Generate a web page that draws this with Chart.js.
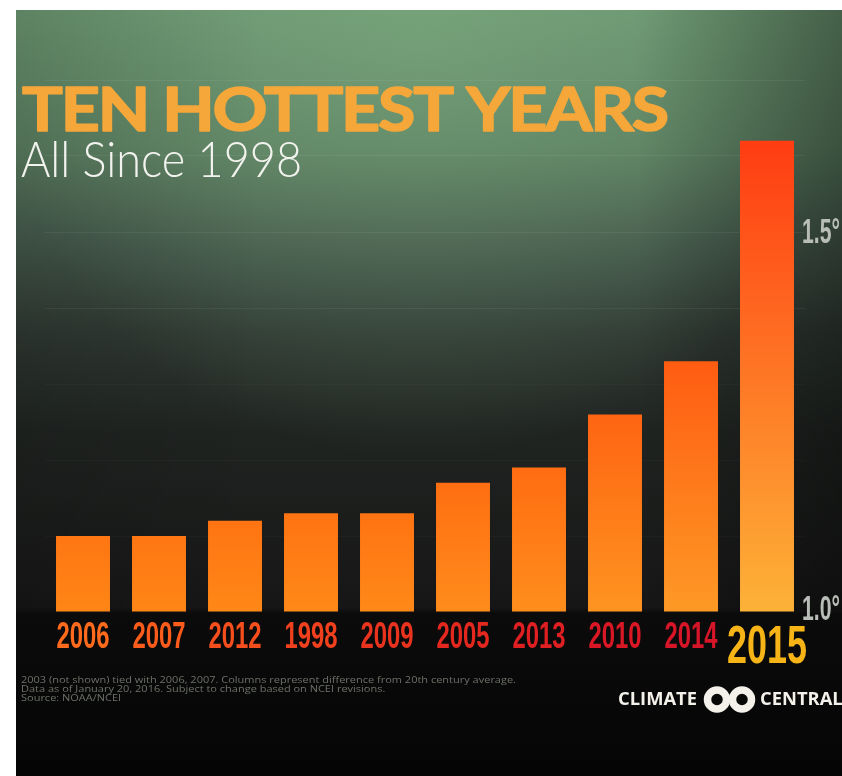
<!DOCTYPE html>
<html>
<head>
<meta charset="utf-8">
<script src="https://cdn.jsdelivr.net/npm/chart.js@4.4.1/dist/chart.umd.min.js"></script>
<style>
  html, body { margin: 0; padding: 0; background: #fff; }
  canvas { display: block; }
</style>
</head>
<body>
<canvas id="hotChart" width="842" height="776"></canvas>
<script>
// Ten hottest years, degrees F above 20th century average (NOAA/NCEI)
const years = ["2006", "2007", "2012", "1998", "2009", "2005", "2013", "2010", "2014", "2015"];
const anomalies = [1.10, 1.10, 1.12, 1.13, 1.13, 1.17, 1.19, 1.26, 1.33, 1.62];
const labeledTicks = [1.0, 1.5];

const yearColors = ["#ff6a1c", "#fb5c1b", "#f64e1c", "#f0401d", "#ea331e", "#e4281f", "#df1f22", "#da1825", "#d61528", "#f6b416"];

const titleText = "TEN HOTTEST YEARS";
const subtitleText = "All Since 1998";
const footnoteLines = [
  "2003 (not shown) tied with 2006, 2007. Columns represent difference from 20th century average.",
  "Data as of January 20, 2016. Subject to change based on NCEI revisions.",
  "Source: NOAA/NCEI",
];

const NUM_FONT = "'Liberation Sans', Arial, sans-serif";

function mix(a, b, t) {
  const pa = a.match(/\w\w/g).map((h) => parseInt(h, 16));
  const pb = b.match(/\w\w/g).map((h) => parseInt(h, 16));
  const c = pa.map((v, i) => Math.round(v + (pb[i] - v) * t));
  return `rgb(${c[0]}, ${c[1]}, ${c[2]})`;
}

// each column fades from light orange at its foot to a hotter tone at its top
function barFill(context) {
  const chart = context.chart;
  const area = chart.chartArea;
  if (!area) return "#ff7a14";
  const value = anomalies[context.dataIndex];
  const top = chart.scales.y.getPixelForValue(value);
  const t = (value - 1.1) / (1.62 - 1.1);
  const g = chart.ctx.createLinearGradient(0, area.bottom, 0, top);
  g.addColorStop(0, mix("ff8616", "fdb238", t));
  g.addColorStop(1, mix("ff7612", "ff3c12", t));
  return g;
}

// draw text squeezed/stretched horizontally so it spans `width` px
function fitText(ctx, text, x, y, width, align, stroke) {
  const w = ctx.measureText(text).width;
  ctx.save();
  ctx.translate(x, y);
  ctx.scale(width / w, 1);
  ctx.textAlign = align;
  ctx.fillText(text, 0, 0);
  if (stroke) ctx.strokeText(text, 0, 0);
  ctx.restore();
}

const backdrop = {
  id: "backdrop",
  beforeDraw(chart) {
    const { ctx, width, height } = chart;
    ctx.save();
    ctx.fillStyle = "#fff";
    ctx.fillRect(0, 0, width, height);

    const x0 = 16, y0 = 10;
    const v = ctx.createLinearGradient(0, y0, 0, height);
    v.addColorStop(0, "#6a9470");
    v.addColorStop(0.18, "#5a7d60");
    v.addColorStop(0.3, "#45594b");
    v.addColorStop(0.42, "#2f3933");
    v.addColorStop(0.55, "#202421");
    v.addColorStop(0.78, "#161616");
    v.addColorStop(0.788, "#0b0b0b");
    v.addColorStop(1, "#050505");
    ctx.fillStyle = v;
    ctx.fillRect(x0, y0, width - x0, height - y0);

    const glow = ctx.createRadialGradient(420, 30, 0, 420, 30, 430);
    glow.addColorStop(0, "rgba(140, 190, 140, 0.35)");
    glow.addColorStop(1, "rgba(140, 190, 140, 0)");
    ctx.fillStyle = glow;
    ctx.fillRect(x0, y0, width - x0, 600);

    const side = ctx.createLinearGradient(x0, 0, width, 0);
    side.addColorStop(0, "rgba(0, 0, 0, 0.12)");
    side.addColorStop(0.3, "rgba(0, 0, 0, 0)");
    side.addColorStop(0.75, "rgba(0, 0, 0, 0)");
    side.addColorStop(1, "rgba(0, 0, 0, 0.35)");
    ctx.fillStyle = side;
    ctx.fillRect(x0, y0, width - x0, 600);
    ctx.restore();
  },
  afterDraw(chart) {
    const { ctx } = chart;
    const xScale = chart.scales.x;
    const yScale = chart.scales.y;
    ctx.save();
    ctx.textBaseline = "alphabetic";

    // year labels under the columns
    years.forEach((yr, i) => {
      const cx = xScale.getPixelForTick(i);
      const last = i === years.length - 1;
      ctx.fillStyle = yearColors[i];
      ctx.font = `bold ${last ? 53 : 36}px ${NUM_FONT}`;
      fitText(ctx, yr, cx, last ? 663 : 648, last ? 80 : 53, "center");
    });

    // right-hand degree labels
    ctx.fillStyle = "#b9bdb8";
    ctx.font = `bold 35px ${NUM_FONT}`;
    labeledTicks.forEach((t) => {
      const y = yScale.getPixelForValue(t);
      fitText(ctx, t.toFixed(1) + "°", 802, y + (t === 1.0 ? 8 : 11), 38, "left");
    });

    ctx.fillStyle = "#f5a73a";
    ctx.strokeStyle = "#f5a73a";
    ctx.lineWidth = 1.6;
    ctx.lineJoin = "round";
    ctx.letterSpacing = "-2px";
    ctx.font = "bold 62px Lato, sans-serif";
    fitText(ctx, titleText, 22, 131, 645, "left", true);
    ctx.letterSpacing = "0px";

    ctx.fillStyle = "#f2f2ee";
    ctx.font = "300 49px Lato, sans-serif";
    fitText(ctx, subtitleText, 21, 177, 281, "left");

    ctx.fillStyle = "#6c7269";
    ctx.font = "9.5px 'Open Sans', sans-serif";
    const squeeze = 495 / ctx.measureText(footnoteLines[0]).width;
    footnoteLines.forEach((line, i) => {
      fitText(ctx, line, 21, 683 + i * 9, ctx.measureText(line).width * squeeze, "left");
    });

    // logo
    ctx.fillStyle = "#f4f1ea";
    ctx.font = "bold 17px 'Open Sans', sans-serif";
    const logoScale = 79 / ctx.measureText("CLIMATE").width;
    fitText(ctx, "CLIMATE", 618, 705, 79, "left");
    fitText(ctx, "CENTRAL", 760, 705, ctx.measureText("CENTRAL").width * logoScale, "left");
    ctx.strokeStyle = "#f4f1ea";
    ctx.lineWidth = 7.5;
    [717, 742].forEach((cx) => {
      ctx.beginPath();
      ctx.arc(cx, 699.5, 9.5, 0, Math.PI * 2);
      ctx.stroke();
    });
    ctx.restore();
  },
};

new Chart(document.getElementById("hotChart"), {
  type: "bar",
  data: {
    labels: years,
    datasets: [
      {
        data: anomalies,
        base: 1.0,
        backgroundColor: barFill,
        borderWidth: 0,
        barPercentage: 0.71,
        categoryPercentage: 1,
      },
    ],
  },
  options: {
    responsive: false,
    devicePixelRatio: 1,
    animation: false,
    layout: { padding: { left: 45, top: 80, right: 0, bottom: 0 } },
    plugins: { legend: { display: false }, tooltip: { enabled: false } },
    scales: {
      x: {
        grid: { display: false, drawTicks: false },
        border: { display: false },
        ticks: { display: false },
        afterFit: (scale) => { scale.height = 164; },
      },
      y: {
        position: "right",
        min: 1.0,
        max: 1.7,
        afterFit: (scale) => { scale.width = 37; },
        grid: {
          drawTicks: false,
          color: (c) => {
            const v = c.tick ? c.tick.value : 0;
            if (v < 1.05) return "rgba(0, 0, 0, 0)";
            return v > 1.35 ? "rgba(255, 255, 255, 0.06)" : "rgba(255, 255, 255, 0.025)";
          },
        },
        border: { display: false },
        ticks: { display: false, stepSize: 0.1 },
      },
    },
  },
  plugins: [backdrop],
});
</script>
</body>
</html>
